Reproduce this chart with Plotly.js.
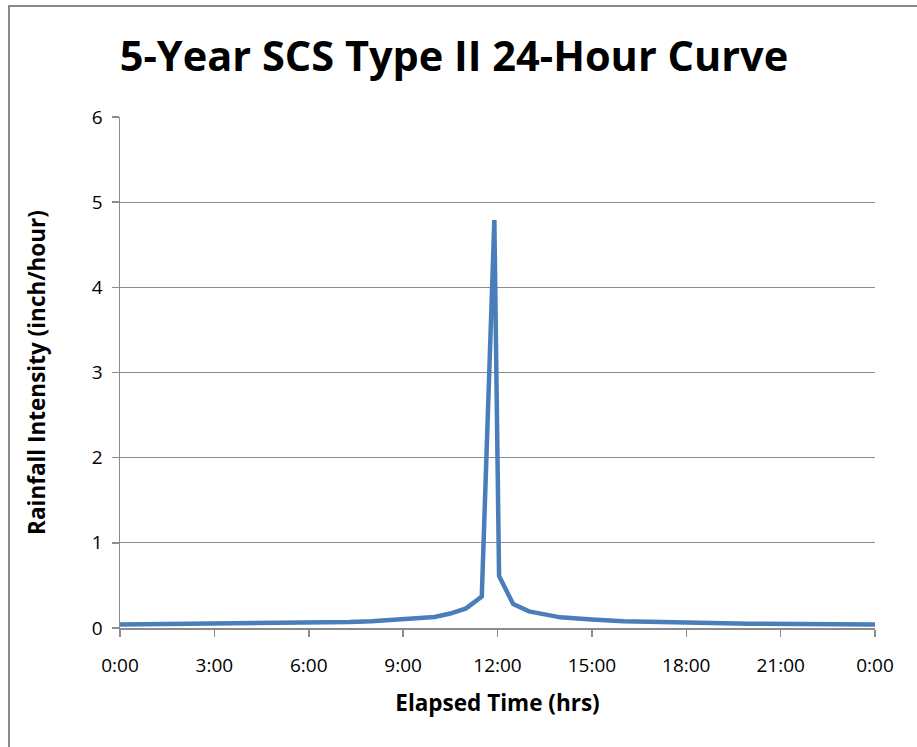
<!DOCTYPE html>
<html>
<head>
<meta charset="utf-8">
<script src="https://cdn.plot.ly/plotly-3.0.1.min.js"></script>
<style>
  html, body { margin:0; padding:0; background:#fff; overflow:hidden; }
  #wrap { position:relative; width:917px; height:747px; }
  #chart { position:absolute; left:0; top:0; width:917px; height:747px; }
  #frame { position:absolute; left:8px; top:5px; width:2000px; height:2000px;
           border-left:2px solid #8a8a8a; border-top:2px solid #8a8a8a; pointer-events:none; }
</style>
</head>
<body>
<div id="wrap">
  <div id="chart"></div>
  <div id="frame"></div>
</div>
<script>
// Elapsed time (hours) and rainfall intensity (inch/hour)
const elapsedHours = [0, 3, 6, 7.3, 8, 9, 9.5, 10, 10.5, 11, 11.5, 11.9, 12.05, 12.5, 13, 13.5, 14, 15, 16, 18, 20, 24];
const intensity    = [0.04, 0.05, 0.065, 0.07, 0.08, 0.105, 0.105, 0.13, 0.17, 0.23, 0.37, 4.79, 0.61, 0.28, 0.195, 0.155, 0.125, 0.1, 0.08, 0.065, 0.05, 0.04];

const xTickVals  = [0, 3, 6, 9, 12, 15, 18, 21, 24];
const xTickText  = ["0:00", "3:00", "6:00", "9:00", "12:00", "15:00", "18:00", "21:00", "0:00"];

const titleText  = "5-Year SCS Type II 24-Hour Curve";
const xTitleText = "Elapsed Time (hrs)";
const yTitleText = "Rainfall Intensity (inch/hour)";

const FONT = "'Open Sans', 'Noto Sans', sans-serif";
const GRID = "#8c8c8c";

const trace = {
  x: elapsedHours,
  y: intensity,
  type: "scatter",
  mode: "lines",
  line: { color: "#4a7ebb", width: 4.5 },
  hoverinfo: "skip",
  showlegend: false
};

const layout = {
  width: 917,
  height: 747,
  margin: { l: 120, r: 42, t: 117, b: 119 },
  paper_bgcolor: "#ffffff",
  plot_bgcolor: "#ffffff",
  title: {
    text: "<b>" + titleText + "</b>",
    font: { family: FONT, size: 41.5, color: "#000" },
    x: 454 / 917, xref: "container", xanchor: "center",
    y: 1 - 56 / 747, yref: "container", yanchor: "middle"
  },
  xaxis: {
    range: [0, 24],
    tickmode: "array",
    tickvals: xTickVals,
    ticktext: xTickText,
    ticks: "outside",
    ticklen: 7,
    tickwidth: 1.5,
    tickcolor: GRID,
    ticklabelstandoff: 13,
    showline: true,
    linecolor: GRID,
    linewidth: 1.5,
    showgrid: false,
    zeroline: false,
    tickfont: { family: FONT, size: 19, color: "#000" },
    title: { text: "<b>" + xTitleText + "</b>", font: { family: FONT, size: 22.5, color: "#000" }, standoff: 18 },
    fixedrange: true
  },
  yaxis: {
    range: [0, 6],
    dtick: 1,
    tick0: 0,
    ticks: "outside",
    ticklen: 7,
    tickwidth: 1.5,
    tickcolor: GRID,
    ticklabelstandoff: 5,
    showline: true,
    linecolor: GRID,
    linewidth: 1.5,
    showgrid: true,
    gridcolor: GRID,
    gridwidth: 1.3,
    zeroline: false,
    tickfont: { family: FONT, size: 19, color: "#000" },
    title: { text: "<b>" + yTitleText + "</b>", font: { family: FONT, size: 22.5, color: "#000" }, standoff: 40 },
    fixedrange: true
  }
};

Plotly.newPlot("chart", [trace], layout, { displayModeBar: false, staticPlot: true });
</script>
</body>
</html>
